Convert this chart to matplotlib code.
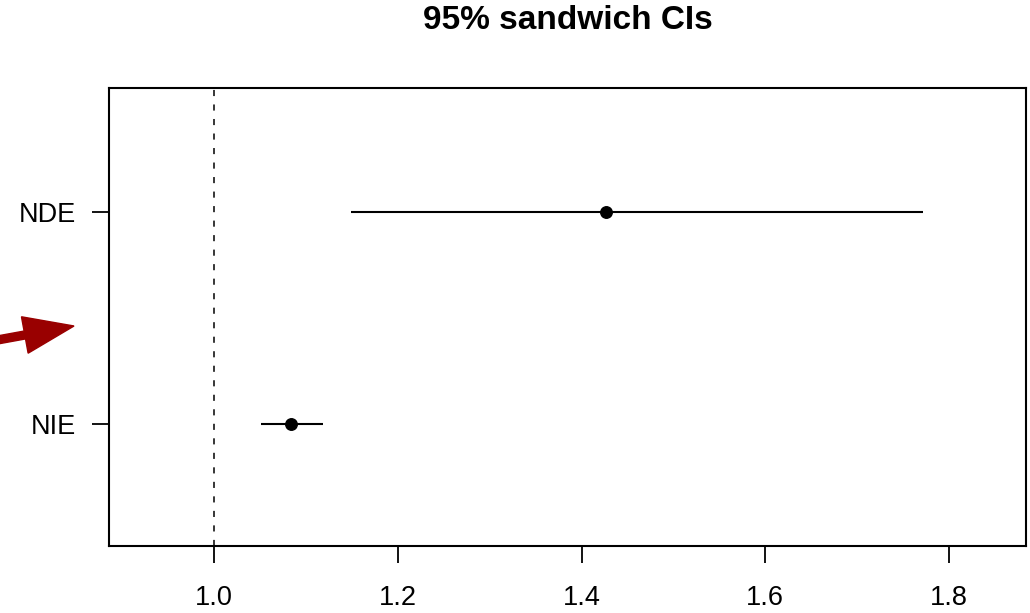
import matplotlib
matplotlib.use("Agg")
import matplotlib.pyplot as plt
from matplotlib.patches import FancyArrow

plt.rcParams['font.family'] = ['Liberation Sans', 'DejaVu Sans']

# data
effects = ['NIE', 'NDE']
estimate = [1.084, 1.427]
ci_low = [1.051, 1.149]
ci_high = [1.119, 1.772]
xticks = [1.0, 1.2, 1.4, 1.6, 1.8]
ref_value = 1.0

fig = plt.figure(figsize=(10.30, 6.13), dpi=100)
ax = fig.add_axes([0.1058, 0.1085, 0.8908, 0.7479])

ypos = list(range(1, len(effects) + 1))
ax.hlines(ypos, ci_low, ci_high, color='black', lw=1.5)
ax.plot(estimate, ypos, 'o', color='black', ms=8.3)
ax.axvline(ref_value, color='black', lw=1.1, dashes=(4.0, 5.5))

ax.set_xlim(0.8855, 1.8845)
ax.set_ylim(0.42, 2.583)
ax.set_xticks(xticks)
ax.set_xticklabels(['%.1f' % v for v in xticks])
ax.set_yticks(ypos)
ax.set_yticklabels(effects)

for sp in ax.spines.values():
    sp.set_linewidth(1.5)
    sp.set_color('black')

ax.tick_params(axis='both', length=12, width=1.3, labelsize=19.5, color='black')
ax.tick_params(axis='x', pad=15.5)
ax.tick_params(axis='y', pad=12)

fig.text(0.5515, 1 - 29 / 613, '95% sandwich CIs', ha='center', va='baseline',
         fontsize=24, fontweight='bold')

# red arrow on the left pointing at the gap between the rows
arrow = FancyArrow(-0.30, 2.68, 1.04, 0.19, width=0.08, head_width=0.37,
                   head_length=0.50, length_includes_head=True,
                   color='#990000', transform=fig.dpi_scale_trans, clip_on=False)
fig.patches.append(arrow)

fig.savefig('out.png', dpi=100)
